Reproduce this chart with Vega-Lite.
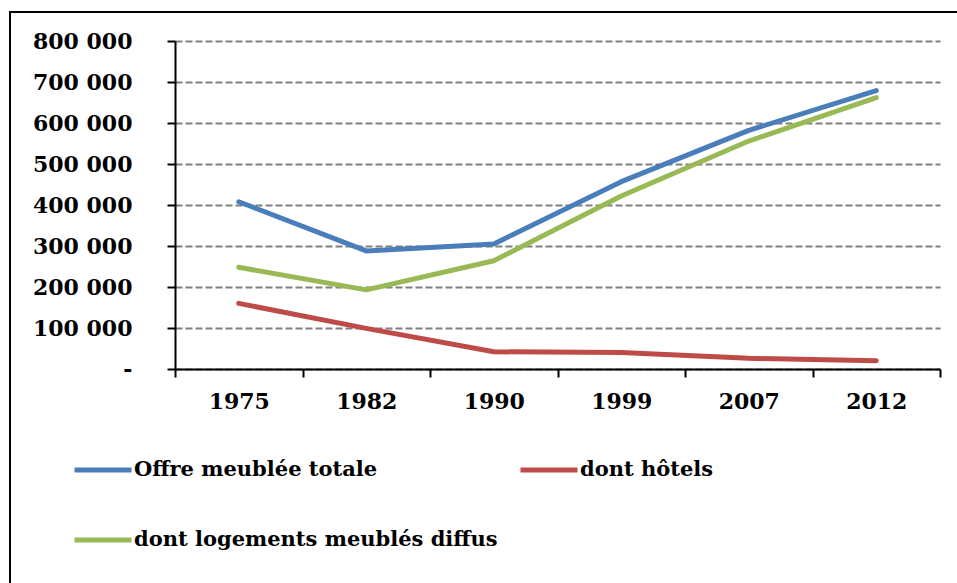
{
  "$schema": "https://vega.github.io/schema/vega-lite/v6.json",
  "width": 957,
  "height": 583,
  "autosize": {"type": "none"},
  "padding": {"left": 10, "top": 12, "right": 0, "bottom": 0},
  "background": "white",
  "config": {
    "view": {"stroke": "black", "strokeWidth": 2},
    "axis": {
      "labelFont": "DejaVu Serif",
      "labelFontWeight": "bold",
      "labelFontSize": 22,
      "labelColor": "black",
      "domainColor": "black",
      "domainWidth": 2,
      "tickColor": "black",
      "tickWidth": 2,
      "tickSize": 8,
      "title": null
    }
  },
  "data": {
    "values": [
      {"year": "1975", "series": "Offre meublée totale", "value": 408000},
      {"year": "1982", "series": "Offre meublée totale", "value": 288000},
      {"year": "1990", "series": "Offre meublée totale", "value": 305000},
      {"year": "1999", "series": "Offre meublée totale", "value": 457000},
      {"year": "2007", "series": "Offre meublée totale", "value": 582000},
      {"year": "2012", "series": "Offre meublée totale", "value": 679000},
      {"year": "1975", "series": "dont hôtels", "value": 160000},
      {"year": "1982", "series": "dont hôtels", "value": 99000},
      {"year": "1990", "series": "dont hôtels", "value": 42000},
      {"year": "1999", "series": "dont hôtels", "value": 40000},
      {"year": "2007", "series": "dont hôtels", "value": 26000},
      {"year": "2012", "series": "dont hôtels", "value": 20000},
      {"year": "1975", "series": "dont logements meublés diffus", "value": 248000},
      {"year": "1982", "series": "dont logements meublés diffus", "value": 193000},
      {"year": "1990", "series": "dont logements meublés diffus", "value": 264000},
      {"year": "1999", "series": "dont logements meublés diffus", "value": 422000},
      {"year": "2007", "series": "dont logements meublés diffus", "value": 556000},
      {"year": "2012", "series": "dont logements meublés diffus", "value": 662000}
    ]
  },
  "mark": {"type": "line", "strokeWidth": 5, "strokeCap": "round", "strokeJoin": "round"},
  "encoding": {
    "x": {
      "field": "year",
      "type": "ordinal",
      "bandPosition": 0.5,
      "scale": {"type": "band", "range": [165, 930], "paddingInner": 0, "paddingOuter": 0},
      "axis": {
        "orient": "bottom",
        "offset": -226,
        "labelAngle": 0,
        "tickBand": "extent",
        "labelPadding": 14,
        "grid": false
      }
    },
    "y": {
      "field": "value",
      "type": "quantitative",
      "scale": {"domain": [0, 800000], "range": [357, 29], "nice": false, "zero": true},
      "axis": {
        "orient": "left",
        "offset": -165,
        "values": [0, 100000, 200000, 300000, 400000, 500000, 600000, 700000, 800000],
        "labelExpr": "datum.value == 0 ? '-\u00a0\u00a0' : replace(format(datum.value, ','), ',', ' ')",
        "labelPadding": 35,
        "grid": true,
        "gridColor": "#808080",
        "gridWidth": 2,
        "gridDash": [7, 3],
        "gridOpacity": 1
      }
    },
    "color": {
      "field": "series",
      "type": "nominal",
      "sort": ["Offre meublée totale", "dont hôtels", "dont logements meublés diffus"],
      "scale": {
        "domain": ["Offre meublée totale", "dont hôtels", "dont logements meublés diffus"],
        "range": ["#4A7EBB", "#BE4B48", "#98B954"]
      },
      "legend": {
        "title": null,
        "orient": "none",
        "legendX": 62,
        "legendY": 427,
        "direction": "horizontal",
        "columns": 2,
        "columnPadding": 12,
        "rowPadding": 29,
        "padding": 0,
        "symbolType": "stroke",
        "symbolSize": 3249,
        "symbolStrokeWidth": 5,
        "labelOffset": 0,
        "labelFont": "DejaVu Serif",
        "labelFontWeight": "bold",
        "labelFontSize": 21,
        "labelColor": "black",
        "labelLimit": 600
      }
    }
  }
}
